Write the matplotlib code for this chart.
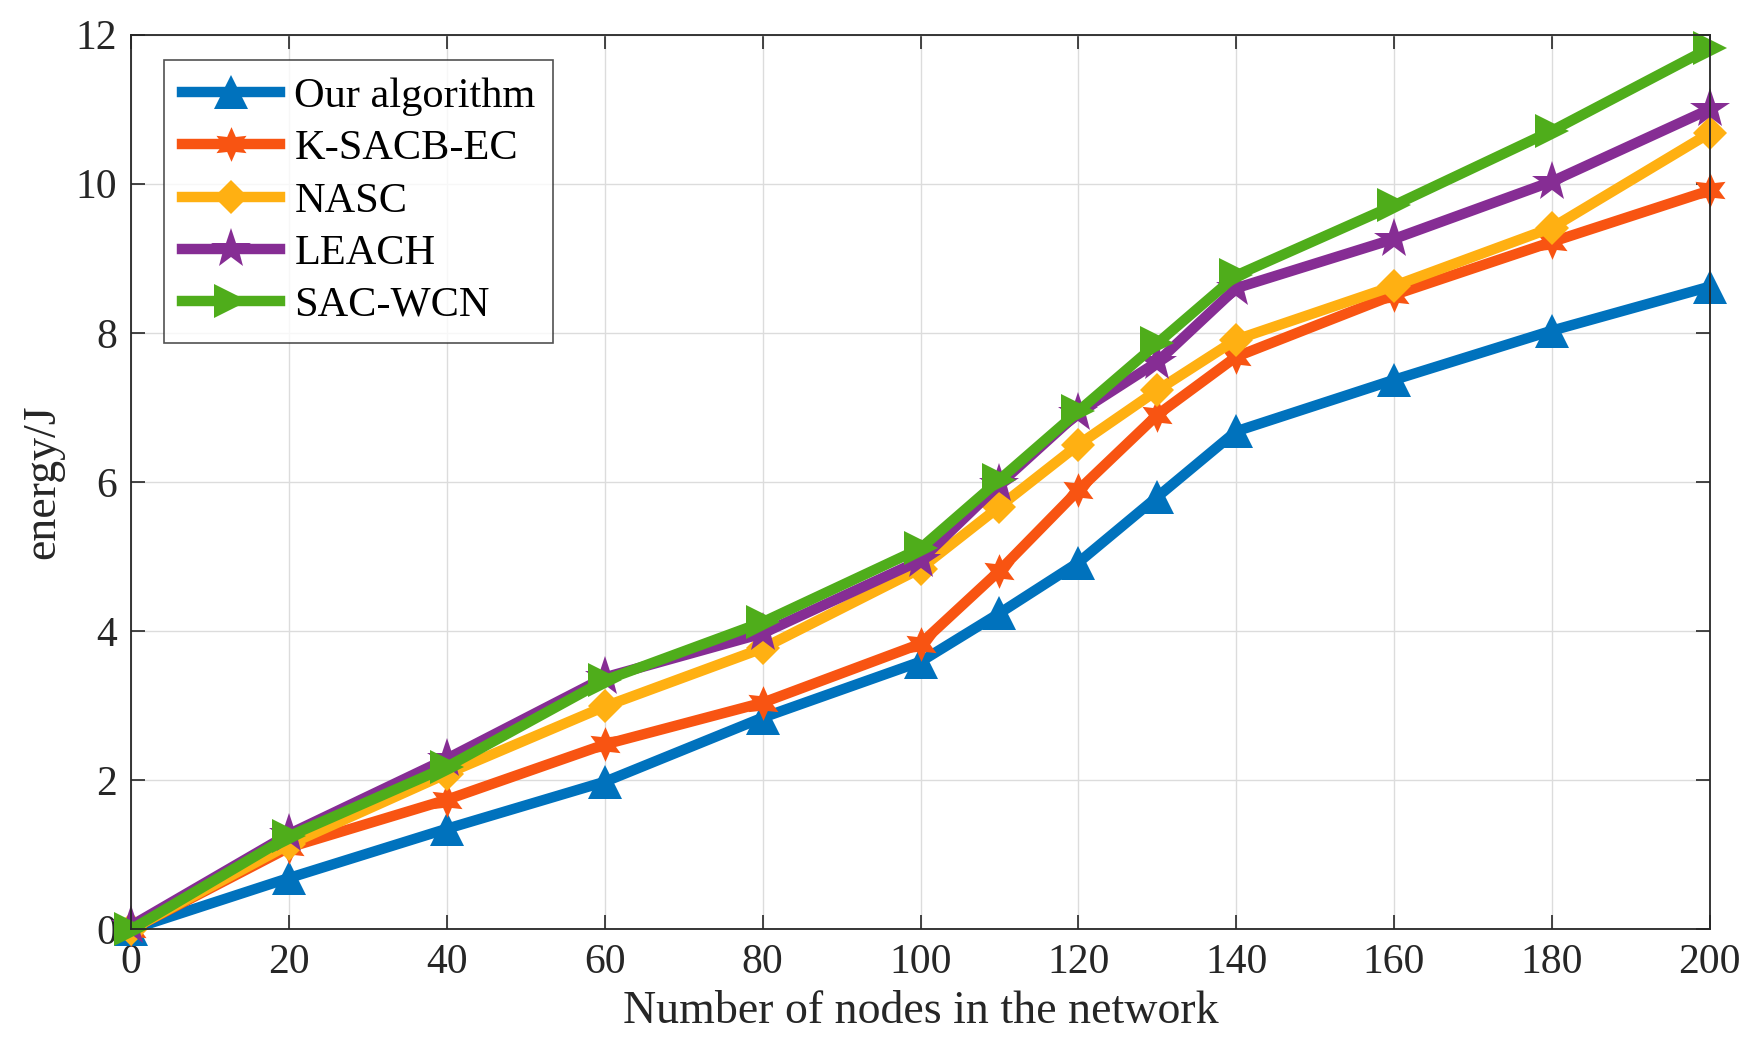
import numpy as np
import matplotlib.pyplot as plt

plt.rcParams['font.family'] = ['Liberation Serif', 'DejaVu Serif']

# number of nodes
nodes = [0, 20, 40, 60, 80, 100, 110, 120, 130, 140, 160, 180, 200]

# energy consumption (J)
ours = [0, 0.69, 1.35, 1.98, 2.84, 3.59, 4.24, 4.92, 5.80, 6.68, 7.37, 8.03, 8.62]
ksacb = [0, 1.10, 1.74, 2.48, 3.04, 3.83, 4.81, 5.89, 6.90, 7.68, 8.51, 9.22, 9.91]
nasc = [0, 1.14, 2.09, 2.99, 3.77, 4.84, 5.67, 6.50, 7.23, 7.91, 8.63, 9.41, 10.68]
leach = [0.05, 1.28, 2.29, 3.38, 3.97, 4.95, 5.97, 6.93, 7.61, 8.60, 9.26, 10.03, 11.0]
sacwcn = [0, 1.25, 2.18, 3.34, 4.12, 5.11, 6.03, 6.95, 7.86, 8.77, 9.71, 10.71, 11.82]

labels = ['Our algorithm', 'K-SACB-EC', 'NASC', 'LEACH', 'SAC-WCN']
colors = ['#0072BD', '#F85412', '#FFB012', '#862D94', '#4FAD1B']
markers = ['^', (6, 1, 0), 'D', '*', '>']
msizes = [24, 25, 17, 30, 24]

fig = plt.figure(figsize=(17.5, 10.49), dpi=100)
ax = fig.add_axes([0.075, 0.114, 0.902, 0.853])

series = [ours, ksacb, nasc, leach, sacwcn]
for ys, lab, c, m, ms in zip(series, labels, colors, markers, msizes):
    ax.plot(nodes, ys, color=c, marker=m, markersize=ms, linewidth=7.5,
            markeredgewidth=0, label=lab, clip_on=False)

ax.set_xlim(0, 200)
ax.set_ylim(0, 12)
ax.set_xticks(np.arange(0, 201, 20))
ax.set_yticks(np.arange(0, 13, 2))
ax.grid(True, color='#dcdcdc', linewidth=1.0)
ax.set_axisbelow(True)
ax.tick_params(direction='in', length=10, width=1.2, labelsize=30, colors='#262626',
               top=True, right=True, pad=10)
for sp in ax.spines.values():
    sp.set_color('#262626')
    sp.set_linewidth(1.3)

ax.set_xlabel('Number of nodes in the network', fontsize=33, color='#262626', labelpad=6)
ax.set_ylabel('energy/J', fontsize=33, color='#262626', labelpad=8)

leg = ax.legend(loc='upper left', bbox_to_anchor=(0.021, 0.972), borderaxespad=0,
                fontsize=30.5, frameon=True, fancybox=False, edgecolor='#262626',
                handlelength=2.3, handletextpad=0.35, labelspacing=0.32,
                borderpad=0.42)
leg.get_frame().set_linewidth(1.2)

fig.savefig('out.png', dpi=100)
